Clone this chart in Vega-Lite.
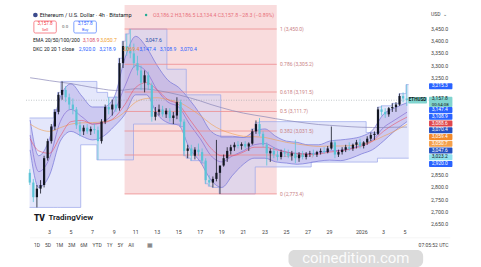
{
  "$schema": "https://vega.github.io/schema/vega-lite/v6.json",
  "width": 407,
  "height": 221,
  "autosize": {"type": "none"},
  "padding": {"left": 25, "top": 5, "right": 49, "bottom": 41},
  "background": "white",
  "config": {"view": {"stroke": null}, "font": "Roboto", "axis": {"disable": true}},
  "datasets": {
    "candles": [
      {"t":1.17,"o":2860,"h":2875,"l":2810,"c":2820},
      {"t":1.5,"o":2820,"h":2835,"l":2740,"c":2760},
      {"t":1.83,"o":2760,"h":2810,"l":2718,"c":2795},
      {"t":2.17,"o":2795,"h":2830,"l":2775,"c":2810},
      {"t":2.5,"o":2810,"h":2930,"l":2800,"c":2920},
      {"t":2.83,"o":2920,"h":3000,"l":2910,"c":2990},
      {"t":3.17,"o":2990,"h":3060,"l":2980,"c":3050},
      {"t":3.5,"o":3050,"h":3120,"l":3035,"c":3110},
      {"t":3.83,"o":3110,"h":3190,"l":3100,"c":3180},
      {"t":4.17,"o":3180,"h":3235,"l":3160,"c":3200},
      {"t":4.5,"o":3200,"h":3215,"l":3150,"c":3170},
      {"t":4.83,"o":3170,"h":3185,"l":3120,"c":3140},
      {"t":5.17,"o":3140,"h":3165,"l":3100,"c":3120},
      {"t":5.5,"o":3120,"h":3130,"l":3040,"c":3055},
      {"t":5.83,"o":3055,"h":3070,"l":3010,"c":3030},
      {"t":6.17,"o":3030,"h":3055,"l":3015,"c":3045},
      {"t":6.5,"o":3045,"h":3060,"l":3020,"c":3030},
      {"t":6.83,"o":3030,"h":3050,"l":3015,"c":3040},
      {"t":7.17,"o":3040,"h":3060,"l":3020,"c":3035},
      {"t":7.5,"o":3035,"h":3050,"l":2913,"c":2990},
      {"t":7.83,"o":2990,"h":3080,"l":2980,"c":3070},
      {"t":8.17,"o":3070,"h":3140,"l":3060,"c":3130},
      {"t":8.5,"o":3130,"h":3170,"l":3100,"c":3120},
      {"t":8.83,"o":3120,"h":3160,"l":3095,"c":3140},
      {"t":9.17,"o":3140,"h":3175,"l":3110,"c":3125},
      {"t":9.5,"o":3125,"h":3330,"l":3115,"c":3310},
      {"t":9.83,"o":3310,"h":3400,"l":3290,"c":3380},
      {"t":10.17,"o":3380,"h":3430,"l":3340,"c":3360},
      {"t":10.5,"o":3360,"h":3450,"l":3330,"c":3350},
      {"t":10.83,"o":3350,"h":3390,"l":3290,"c":3310},
      {"t":11.17,"o":3310,"h":3340,"l":3260,"c":3280},
      {"t":11.5,"o":3280,"h":3300,"l":3200,"c":3230},
      {"t":11.83,"o":3230,"h":3280,"l":3190,"c":3260},
      {"t":12.17,"o":3260,"h":3275,"l":3200,"c":3220},
      {"t":12.5,"o":3220,"h":3230,"l":3070,"c":3090},
      {"t":12.83,"o":3090,"h":3130,"l":3075,"c":3110},
      {"t":13.17,"o":3110,"h":3140,"l":3095,"c":3120},
      {"t":13.5,"o":3120,"h":3135,"l":3090,"c":3100},
      {"t":13.83,"o":3100,"h":3125,"l":3085,"c":3115},
      {"t":14.17,"o":3115,"h":3125,"l":3070,"c":3085},
      {"t":14.5,"o":3085,"h":3110,"l":3060,"c":3095},
      {"t":14.83,"o":3095,"h":3170,"l":3080,"c":3150},
      {"t":15.17,"o":3150,"h":3160,"l":3050,"c":3070},
      {"t":15.5,"o":3070,"h":3080,"l":2930,"c":2950},
      {"t":15.83,"o":2950,"h":2975,"l":2920,"c":2960},
      {"t":16.17,"o":2960,"h":2975,"l":2910,"c":2930},
      {"t":16.5,"o":2930,"h":2965,"l":2915,"c":2955},
      {"t":16.83,"o":2955,"h":2980,"l":2930,"c":2945},
      {"t":17.17,"o":2945,"h":2960,"l":2900,"c":2910},
      {"t":17.5,"o":2910,"h":2920,"l":2815,"c":2830},
      {"t":17.83,"o":2830,"h":2850,"l":2805,"c":2820},
      {"t":18.17,"o":2820,"h":2845,"l":2800,"c":2835},
      {"t":18.5,"o":2835,"h":2995,"l":2825,"c":2860},
      {"t":18.83,"o":2860,"h":2870,"l":2773.4,"c":2890},
      {"t":19.17,"o":2890,"h":2935,"l":2885,"c":2920},
      {"t":19.5,"o":2920,"h":2965,"l":2905,"c":2950},
      {"t":19.83,"o":2950,"h":2975,"l":2935,"c":2965},
      {"t":20.17,"o":2965,"h":2985,"l":2950,"c":2975},
      {"t":20.5,"o":2975,"h":2990,"l":2960,"c":2970},
      {"t":20.83,"o":2970,"h":2985,"l":2955,"c":2978},
      {"t":21.17,"o":2978,"h":2990,"l":2960,"c":2968},
      {"t":21.5,"o":2968,"h":2985,"l":2950,"c":2980},
      {"t":21.83,"o":2980,"h":3040,"l":2975,"c":3030},
      {"t":22.17,"o":3030,"h":3075,"l":3020,"c":3060},
      {"t":22.5,"o":3060,"h":3085,"l":3010,"c":3020},
      {"t":22.83,"o":3020,"h":3030,"l":2965,"c":2975},
      {"t":23.17,"o":2975,"h":2985,"l":2890,"c":2940},
      {"t":23.5,"o":2940,"h":2960,"l":2905,"c":2950},
      {"t":23.83,"o":2950,"h":2965,"l":2920,"c":2935},
      {"t":24.17,"o":2935,"h":2950,"l":2910,"c":2925},
      {"t":24.5,"o":2925,"h":2955,"l":2915,"c":2945},
      {"t":24.83,"o":2945,"h":2960,"l":2925,"c":2940},
      {"t":25.17,"o":2940,"h":2955,"l":2920,"c":2930},
      {"t":25.5,"o":2930,"h":2950,"l":2910,"c":2940},
      {"t":25.83,"o":2940,"h":2995,"l":2900,"c":2920},
      {"t":26.17,"o":2920,"h":2945,"l":2905,"c":2935},
      {"t":26.5,"o":2935,"h":2950,"l":2915,"c":2925},
      {"t":26.83,"o":2925,"h":2945,"l":2915,"c":2938},
      {"t":27.17,"o":2938,"h":2950,"l":2925,"c":2940},
      {"t":27.5,"o":2940,"h":2955,"l":2928,"c":2935},
      {"t":27.83,"o":2935,"h":2950,"l":2925,"c":2945},
      {"t":28.17,"o":2945,"h":2960,"l":2935,"c":2950},
      {"t":28.5,"o":2950,"h":2965,"l":2938,"c":2945},
      {"t":28.83,"o":2945,"h":2970,"l":2940,"c":2960},
      {"t":29.17,"o":2960,"h":3050,"l":2955,"c":2985},
      {"t":29.5,"o":2985,"h":2995,"l":2920,"c":2935},
      {"t":29.83,"o":2935,"h":2955,"l":2925,"c":2945},
      {"t":30.17,"o":2945,"h":2965,"l":2935,"c":2955},
      {"t":30.5,"o":2955,"h":2975,"l":2945,"c":2965},
      {"t":30.83,"o":2965,"h":2985,"l":2950,"c":2960},
      {"t":31.17,"o":2960,"h":2980,"l":2950,"c":2975},
      {"t":31.5,"o":2975,"h":2995,"l":2960,"c":2985},
      {"t":31.83,"o":2985,"h":3000,"l":2960,"c":2970},
      {"t":32.17,"o":2970,"h":2990,"l":2960,"c":2985},
      {"t":32.5,"o":2985,"h":3010,"l":2975,"c":3000},
      {"t":32.83,"o":3000,"h":3025,"l":2990,"c":3015},
      {"t":33.17,"o":3015,"h":3030,"l":2995,"c":3020},
      {"t":33.5,"o":3020,"h":3130,"l":3015,"c":3120},
      {"t":33.83,"o":3120,"h":3135,"l":3095,"c":3110},
      {"t":34.17,"o":3110,"h":3125,"l":3085,"c":3100},
      {"t":34.5,"o":3100,"h":3130,"l":3090,"c":3125},
      {"t":34.83,"o":3125,"h":3145,"l":3110,"c":3130},
      {"t":35.17,"o":3130,"h":3150,"l":3110,"c":3140},
      {"t":35.5,"o":3140,"h":3185,"l":3135,"c":3175},
      {"t":35.83,"o":3175,"h":3190,"l":3150,"c":3165},
      {"t":36.17,"o":3165,"h":3222,"l":3134.4,"c":3157.8}
    ],
    "dc": [
      {"t":1.15,"u":3085,"l":2718},
      {"t":3.4,"u":3120,"l":2718},
      {"t":3.75,"u":3190,"l":2718},
      {"t":4.05,"u":3235,"l":2718},
      {"t":5.9,"u":3235,"l":2975},
      {"t":7.4,"u":3190,"l":2913},
      {"t":8.4,"u":3170,"l":2913},
      {"t":9.4,"u":3330,"l":2913},
      {"t":9.75,"u":3400,"l":2913},
      {"t":10.05,"u":3430,"l":2913},
      {"t":10.4,"u":3450,"l":2913},
      {"t":10.8,"u":3450,"l":3060},
      {"t":13.9,"u":3285,"l":3060},
      {"t":15.1,"u":3285,"l":3050},
      {"t":15.45,"u":3285,"l":2930},
      {"t":15.7,"u":3180,"l":2920},
      {"t":16.1,"u":3180,"l":2910},
      {"t":17.1,"u":3180,"l":2900},
      {"t":17.45,"u":3180,"l":2815},
      {"t":17.75,"u":3180,"l":2805},
      {"t":18.1,"u":3180,"l":2800},
      {"t":18.75,"u":3180,"l":2773.4},
      {"t":18.9,"u":3005,"l":2773.4},
      {"t":21.75,"u":3040,"l":2773.4},
      {"t":22.1,"u":3065,"l":2884},
      {"t":22.45,"u":3070,"l":2884},
      {"t":27.3,"u":3070,"l":2904},
      {"t":32.4,"u":3025,"l":2904},
      {"t":33.45,"u":3130,"l":2920},
      {"t":33.8,"u":3135,"l":2920},
      {"t":34.8,"u":3145,"l":2920},
      {"t":35.45,"u":3185,"l":2920},
      {"t":36.1,"u":3222,"l":2920},
      {"t":36.35,"u":3222,"l":2920}
    ],
    "kc": [
      {"t":1.2,"u":3077,"m":3015,"l":2954},
      {"t":2,"u":2930,"m":2865,"l":2800},
      {"t":3,"u":3000,"m":2920,"l":2850},
      {"t":4,"u":3170,"m":3070,"l":2990},
      {"t":5,"u":3225,"m":3120,"l":3030},
      {"t":6,"u":3175,"m":3090,"l":3010},
      {"t":7,"u":3130,"m":3060,"l":2995},
      {"t":8,"u":3130,"m":3070,"l":3010},
      {"t":9,"u":3170,"m":3110,"l":3050},
      {"t":10,"u":3330,"m":3215,"l":3100},
      {"t":11,"u":3420,"m":3300,"l":3180},
      {"t":12,"u":3375,"m":3275,"l":3180},
      {"t":13,"u":3300,"m":3200,"l":3100},
      {"t":14,"u":3240,"m":3150,"l":3065},
      {"t":15,"u":3210,"m":3130,"l":3055},
      {"t":16,"u":3160,"m":3060,"l":2960},
      {"t":17,"u":3100,"m":3000,"l":2905},
      {"t":18,"u":3030,"m":2930,"l":2830},
      {"t":19,"u":3010,"m":2905,"l":2800},
      {"t":20,"u":3010,"m":2930,"l":2850},
      {"t":21,"u":3005,"m":2950,"l":2895},
      {"t":22,"u":3030,"m":2975,"l":2920},
      {"t":23,"u":3040,"m":2980,"l":2920},
      {"t":24,"u":3010,"m":2960,"l":2905},
      {"t":25,"u":2990,"m":2945,"l":2900},
      {"t":26,"u":2985,"m":2940,"l":2895},
      {"t":27,"u":2975,"m":2938,"l":2900},
      {"t":28,"u":2975,"m":2942,"l":2908},
      {"t":29,"u":2990,"m":2950,"l":2912},
      {"t":30,"u":2995,"m":2952,"l":2910},
      {"t":31,"u":3000,"m":2960,"l":2920},
      {"t":32,"u":3010,"m":2975,"l":2938},
      {"t":33,"u":3035,"m":2995,"l":2955},
      {"t":34,"u":3100,"m":3045,"l":2990},
      {"t":35,"u":3125,"m":3075,"l":3030},
      {"t":36.2,"u":3147.4,"m":3108.9,"l":3070.4}
    ],
    "ema": [
      {"t":1.2,"e50":3000,"e100":3060,"e200":3250},
      {"t":2,"e50":2950,"e100":3040,"e200":3245},
      {"t":3,"e50":2940,"e100":3030,"e200":3238},
      {"t":4,"e50":3010,"e100":3045,"e200":3232},
      {"t":5,"e50":3070,"e100":3060,"e200":3226},
      {"t":6,"e50":3075,"e100":3065,"e200":3218},
      {"t":7,"e50":3060,"e100":3066,"e200":3210},
      {"t":8,"e50":3065,"e100":3070,"e200":3203},
      {"t":9,"e50":3085,"e100":3080,"e200":3198},
      {"t":10,"e50":3140,"e100":3110,"e200":3200},
      {"t":11,"e50":3210,"e100":3150,"e200":3205},
      {"t":12,"e50":3230,"e100":3165,"e200":3204},
      {"t":13,"e50":3200,"e100":3168,"e200":3198},
      {"t":14,"e50":3160,"e100":3160,"e200":3190},
      {"t":15,"e50":3140,"e100":3150,"e200":3180},
      {"t":16,"e50":3080,"e100":3125,"e200":3168},
      {"t":17,"e50":3020,"e100":3095,"e200":3155},
      {"t":18,"e50":2960,"e100":3060,"e200":3140},
      {"t":19,"e50":2930,"e100":3035,"e200":3127},
      {"t":20,"e50":2930,"e100":3020,"e200":3115},
      {"t":21,"e50":2945,"e100":3010,"e200":3105},
      {"t":22,"e50":2965,"e100":3008,"e200":3097},
      {"t":23,"e50":2965,"e100":3005,"e200":3090},
      {"t":24,"e50":2955,"e100":2995,"e200":3082},
      {"t":25,"e50":2945,"e100":2985,"e200":3075},
      {"t":26,"e50":2938,"e100":2978,"e200":3069},
      {"t":27,"e50":2935,"e100":2972,"e200":3063},
      {"t":28,"e50":2937,"e100":2968,"e200":3058},
      {"t":29,"e50":2945,"e100":2970,"e200":3055},
      {"t":30,"e50":2950,"e100":2970,"e200":3052},
      {"t":31,"e50":2958,"e100":2972,"e200":3049},
      {"t":32,"e50":2970,"e100":2978,"e200":3047},
      {"t":33,"e50":2990,"e100":2990,"e200":3046},
      {"t":34,"e50":3030,"e100":3010,"e200":3046},
      {"t":35,"e50":3060,"e100":3030,"e200":3047},
      {"t":36.2,"e50":3088.6,"e100":3059.4,"e200":3047.6}
    ],
    "fib": [
      {"p":3450.0,"label":"1 (3,450.0)"},
      {"p":3305.2,"label":"0.786 (3,305.2)"},
      {"p":3191.5,"label":"0.618 (3,191.5)"},
      {"p":3111.7,"label":"0.5 (3,111.7)"},
      {"p":3031.5,"label":"0.382 (3,031.5)"},
      {"p":2933.1,"label":"0.236 (2,933.1)"},
      {"p":2773.4,"label":"0 (2,773.4)"}
    ],
    "boxes": [
      {"price":3147.4,"label":"3,147.4","role":"kcU"},
      {"price":3108.9,"label":"3,108.9","role":"kcM"},
      {"price":3088.6,"label":"3,088.6","role":"ema50"},
      {"price":3070.4,"label":"3,070.4","role":"kcL"},
      {"price":3059.4,"label":"3,059.4","role":"ema100"},
      {"price":3050.7,"label":"3,050.7","role":"ema100b"},
      {"price":3047.6,"label":"3,047.6","role":"ema200"},
      {"price":3023.2,"label":"3,023.2","role":"misc"},
      {"price":2920.0,"label":"2,920.0","role":"dcL"}
    ],
    "yticks": [{"v":3450},{"v":3400},{"v":3350},{"v":3300},{"v":3250},{"v":2850},{"v":2800},{"v":2750},{"v":2700},{"v":2650}],
    "xticks": [
      {"v":3,"label":"3"},{"v":5,"label":"5"},{"v":7,"label":"7"},{"v":9,"label":"9"},{"v":11,"label":"11"},
      {"v":13,"label":"13"},{"v":15,"label":"15"},{"v":17,"label":"17"},{"v":19,"label":"19"},{"v":21,"label":"21"},
      {"v":23,"label":"23"},{"v":25,"label":"25"},{"v":27,"label":"27"},{"v":29,"label":"29"},
      {"v":32,"label":"2026"},{"v":34,"label":"3"},{"v":36,"label":"5"}
    ]
  },
  "layer": [
    {
      "data": {"values": [{}]},
      "mark": {"type": "rect", "fill": "#f6c6c8", "opacity": 0.62},
      "encoding": {
        "x": {"datum": 9.97, "type": "quantitative", "scale": {"domain": [1.19, 38.05], "nice": false, "zero": false}},
        "x2": {"datum": 24.1},
        "y": {"datum": 3548.5, "type": "quantitative", "scale": {"domain": [2641.8, 3548.5], "nice": false, "zero": false}},
        "y2": {"datum": 2773.4}
      }
    },
    {
      "data": {"name": "dc"},
      "mark": {"type": "area", "interpolate": "step-after", "fill": "#c9d0f7", "opacity": 0.5},
      "encoding": {"x": {"field": "t", "type": "quantitative"}, "y": {"field": "u", "type": "quantitative"}, "y2": {"field": "l"}}
    },
    {
      "data": {"name": "dc"},
      "mark": {"type": "line", "interpolate": "step-after", "stroke": "#9aa5ea", "strokeWidth": 0.7},
      "encoding": {"x": {"field": "t", "type": "quantitative"}, "y": {"field": "u", "type": "quantitative"}}
    },
    {
      "data": {"name": "dc"},
      "mark": {"type": "line", "interpolate": "step-after", "stroke": "#9aa5ea", "strokeWidth": 0.7},
      "encoding": {"x": {"field": "t", "type": "quantitative"}, "y": {"field": "l", "type": "quantitative"}}
    },
    {
      "data": {"name": "kc"},
      "mark": {"type": "area", "interpolate": "monotone", "fill": "#8f7fd6", "opacity": 0.28},
      "encoding": {"x": {"field": "t", "type": "quantitative"}, "y": {"field": "u", "type": "quantitative"}, "y2": {"field": "l"}}
    },
    {
      "data": {"name": "kc"},
      "mark": {"type": "line", "interpolate": "monotone", "stroke": "#7474d8", "strokeWidth": 0.7},
      "encoding": {"x": {"field": "t", "type": "quantitative"}, "y": {"field": "u", "type": "quantitative"}}
    },
    {
      "data": {"name": "kc"},
      "mark": {"type": "line", "interpolate": "monotone", "stroke": "#7474d8", "strokeWidth": 0.7},
      "encoding": {"x": {"field": "t", "type": "quantitative"}, "y": {"field": "l", "type": "quantitative"}}
    },
    {
      "data": {"name": "kc"},
      "mark": {"type": "line", "interpolate": "monotone", "stroke": "#7a5fd0", "strokeWidth": 0.6},
      "encoding": {"x": {"field": "t", "type": "quantitative"}, "y": {"field": "m", "type": "quantitative"}}
    },
    {
      "data": {"name": "fib"},
      "mark": {"type": "rule", "stroke": "#ee8d8f", "strokeWidth": 0.8},
      "encoding": {"x": {"datum": 9.97, "type": "quantitative"}, "x2": {"datum": 24.1}, "y": {"field": "p", "type": "quantitative"}}
    },
    {
      "data": {"name": "fib"},
      "mark": {"type": "text", "align": "left", "baseline": "middle", "fontSize": 5, "color": "#c98386"},
      "encoding": {"x": {"datum": 24.4, "type": "quantitative"}, "y": {"field": "p", "type": "quantitative"}, "text": {"field": "label"}}
    },
    {
      "data": {"name": "ema"},
      "mark": {"type": "line", "interpolate": "monotone", "stroke": "#8a86b8", "strokeWidth": 0.7},
      "encoding": {"x": {"field": "t", "type": "quantitative"}, "y": {"field": "e200", "type": "quantitative"}}
    },
    {
      "data": {"name": "ema"},
      "mark": {"type": "line", "interpolate": "monotone", "stroke": "#f0a050", "strokeWidth": 0.6},
      "encoding": {"x": {"field": "t", "type": "quantitative"}, "y": {"field": "e100", "type": "quantitative"}}
    },
    {
      "data": {"name": "ema"},
      "mark": {"type": "line", "interpolate": "monotone", "stroke": "#e8546a", "strokeWidth": 0.6},
      "encoding": {"x": {"field": "t", "type": "quantitative"}, "y": {"field": "e50", "type": "quantitative"}}
    },
    {
      "data": {"values": [{}]},
      "mark": {"type": "rule", "stroke": "#9aa4a8", "strokeWidth": 0.6, "strokeDash": [1, 1.5]},
      "encoding": {"y": {"datum": 3157.8, "type": "quantitative"}}
    },
    {
      "data": {"name": "candles"},
      "mark": {"type": "rule", "strokeWidth": 0.8, "clip": true},
      "encoding": {
        "x": {"field": "t", "type": "quantitative"},
        "y": {"field": "l", "type": "quantitative"},
        "y2": {"field": "h"},
        "color": {"condition": {"test": "datum.c < datum.o", "value": "#5cc3d6"}, "value": "#131722"}
      }
    },
    {
      "data": {"name": "candles"},
      "mark": {"type": "bar", "size": 2.2, "clip": true},
      "encoding": {
        "x": {"field": "t", "type": "quantitative"},
        "y": {"field": "o", "type": "quantitative"},
        "y2": {"field": "c"},
        "color": {"condition": {"test": "datum.c < datum.o", "value": "#5cc3d6"}, "value": "#131722"}
      }
    },
    {
      "data": {"name": "yticks"},
      "mark": {"type": "text", "align": "left", "baseline": "middle", "fontSize": 5.3, "color": "#444"},
      "encoding": {"x": {"datum": 38.42, "type": "quantitative"}, "y": {"field": "v", "type": "quantitative"}, "text": {"field": "v", "type": "quantitative", "format": ",.1f"}}
    },
    {
      "data": {"name": "xticks"},
      "mark": {"type": "text", "align": "center", "baseline": "middle", "fontSize": 5.3, "color": "#444"},
      "encoding": {
        "x": {"field": "v", "type": "quantitative"},
        "y": {"datum": 2617.2, "type": "quantitative"},
        "text": {"field": "label"},
        "fontWeight": {"condition": {"test": "datum.v == 32", "value": "bold"}, "value": "normal"}
      }
    },
    {
      "data": {"name": "boxes"},
      "transform": [
        {"window": [{"op": "row_number", "as": "rank"}], "sort": [{"field": "price", "order": "descending"}]},
        {"calculate": "3117.7 - (datum.rank - 1) * 27.7", "as": "pos"},
        {"calculate": "datum.pos + 12.6", "as": "top"},
        {"calculate": "datum.pos - 12.6", "as": "bot"}
      ],
      "layer": [
        {
          "mark": {"type": "rect", "cornerRadius": 1},
          "encoding": {
            "x": {"datum": 38.24, "type": "quantitative"}, "x2": {"datum": 40.41},
            "y": {"field": "top", "type": "quantitative"}, "y2": {"field": "bot"},
            "color": {"condition": [
              {"test": "datum.role == 'ema50'", "value": "#e0474c"},
              {"test": "datum.role == 'ema100'", "value": "#f28b2c"},
              {"test": "datum.role == 'ema100b'", "value": "#f5a04a"},
              {"test": "datum.role == 'kcL' || datum.role == 'ema200'", "value": "#2450c0"},
              {"test": "datum.role == 'misc'", "value": "#8fe1ee"}
            ], "value": "#2962ff"}
          }
        },
        {
          "mark": {"type": "text", "align": "left", "baseline": "middle", "fontSize": 4.9},
          "encoding": {
            "x": {"datum": 38.5, "type": "quantitative"},
            "y": {"field": "pos", "type": "quantitative"},
            "text": {"field": "label"},
            "color": {"condition": {"test": "datum.role == 'misc'", "value": "#131722"}, "value": "white"}
          }
        }
      ]
    },
    {
      "data": {"values": [{}]},
      "mark": {"type": "rect", "fill": "#2962ff", "cornerRadius": 1},
      "encoding": {"x": {"datum": 38.24, "type": "quantitative"}, "x2": {"datum": 40.41}, "y": {"datum": 3227.9, "type": "quantitative"}, "y2": {"datum": 3202.7}}
    },
    {
      "data": {"values": [{}]},
      "mark": {"type": "text", "align": "left", "baseline": "middle", "fontSize": 4.9, "color": "white", "text": "3,215.3"},
      "encoding": {"x": {"datum": 38.5, "type": "quantitative"}, "y": {"datum": 3215.3, "type": "quantitative"}}
    },
    {
      "data": {"values": [{}]},
      "mark": {"type": "rect", "fill": "#80d4cf", "cornerRadius": 1},
      "encoding": {"x": {"datum": 38.24, "type": "quantitative"}, "x2": {"datum": 40.41}, "y": {"datum": 3172, "type": "quantitative"}, "y2": {"datum": 3130}}
    },
    {
      "data": {"values": [{}]},
      "mark": {"type": "text", "align": "left", "baseline": "middle", "fontSize": 4.9, "color": "#131722", "text": "3,157.8"},
      "encoding": {"x": {"datum": 38.5, "type": "quantitative"}, "y": {"datum": 3162, "type": "quantitative"}}
    },
    {
      "data": {"values": [{}]},
      "mark": {"type": "text", "align": "left", "baseline": "middle", "fontSize": 4.4, "color": "#131722", "text": "00:54:08"},
      "encoding": {"x": {"datum": 38.5, "type": "quantitative"}, "y": {"datum": 3140, "type": "quantitative"}}
    },
    {
      "data": {"values": [{}]},
      "mark": {"type": "rect", "fill": "#80d4cf", "cornerRadius": 1},
      "encoding": {"x": {"datum": 36.3, "type": "quantitative"}, "x2": {"datum": 38.05}, "y": {"datum": 3171, "type": "quantitative"}, "y2": {"datum": 3144}}
    },
    {
      "data": {"values": [{}]},
      "mark": {"type": "text", "align": "center", "baseline": "middle", "fontSize": 4.6, "fontWeight": "bold", "color": "#131722", "text": "ETHUSD"},
      "encoding": {"x": {"datum": 37.17, "type": "quantitative"}, "y": {"datum": 3157.8, "type": "quantitative"}}
    },
    {
      "data": {"values": [{}]},
      "mark": {"type": "point", "shape": "circle", "filled": true, "size": 22, "color": "#3b4a8c", "opacity": 1},
      "encoding": {"x": {"datum": 1.69, "type": "quantitative"}, "y": {"datum": 3507.4, "type": "quantitative"}}
    },
    {
      "data": {"values": [{}]},
      "mark": {"type": "text", "align": "left", "baseline": "middle", "fontSize": 5.6, "color": "#131722", "text": "Ethereum / U.S. Dollar · 4h · Bitstamp"},
      "encoding": {"x": {"datum": 2.09, "type": "quantitative"}, "y": {"datum": 3507.4, "type": "quantitative"}}
    },
    {
      "data": {"values": [{}]},
      "mark": {"type": "point", "shape": "circle", "filled": true, "size": 6, "color": "#22ab94", "opacity": 1},
      "encoding": {"x": {"datum": 11.97, "type": "quantitative"}, "y": {"datum": 3507.4, "type": "quantitative"}}
    },
    {
      "data": {"values": [{}]},
      "mark": {"type": "text", "align": "left", "baseline": "middle", "fontSize": 5.2, "color": "#e8707a", "text": "O3,186.2 H3,186.5 L3,134.4 C3,157.8 −28.3 (−0.89%)"},
      "encoding": {"x": {"datum": 12.6, "type": "quantitative"}, "y": {"datum": 3507.4, "type": "quantitative"}}
    },
    {
      "data": {"values": [{}]},
      "mark": {"type": "rect", "fill": "white", "stroke": "#f23645", "strokeWidth": 0.6, "cornerRadius": 1.5},
      "encoding": {"x": {"datum": 1.55, "type": "quantitative"}, "x2": {"datum": 3.63}, "y": {"datum": 3482.8, "type": "quantitative"}, "y2": {"datum": 3433.6}}
    },
    {
      "data": {"values": [{}]},
      "mark": {"type": "text", "align": "center", "baseline": "middle", "fontSize": 4.6, "color": "#f23645", "text": "3,157.8"},
      "encoding": {"x": {"datum": 2.59, "type": "quantitative"}, "y": {"datum": 3468.5, "type": "quantitative"}}
    },
    {
      "data": {"values": [{}]},
      "mark": {"type": "text", "align": "center", "baseline": "middle", "fontSize": 3.8, "color": "#f23645", "text": "Sell"},
      "encoding": {"x": {"datum": 2.59, "type": "quantitative"}, "y": {"datum": 3444, "type": "quantitative"}}
    },
    {
      "data": {"values": [{}]},
      "mark": {"type": "text", "align": "center", "baseline": "middle", "fontSize": 4.4, "color": "#555", "text": "0.0"},
      "encoding": {"x": {"datum": 4.45, "type": "quantitative"}, "y": {"datum": 3458.2, "type": "quantitative"}}
    },
    {
      "data": {"values": [{}]},
      "mark": {"type": "rect", "fill": "white", "stroke": "#2962ff", "strokeWidth": 0.6, "cornerRadius": 1.5},
      "encoding": {"x": {"datum": 5.26, "type": "quantitative"}, "x2": {"datum": 7.35}, "y": {"datum": 3482.8, "type": "quantitative"}, "y2": {"datum": 3433.6}}
    },
    {
      "data": {"values": [{}]},
      "mark": {"type": "text", "align": "center", "baseline": "middle", "fontSize": 4.6, "color": "#2962ff", "text": "3,157.8"},
      "encoding": {"x": {"datum": 6.31, "type": "quantitative"}, "y": {"datum": 3468.5, "type": "quantitative"}}
    },
    {
      "data": {"values": [{}]},
      "mark": {"type": "text", "align": "center", "baseline": "middle", "fontSize": 3.8, "color": "#2962ff", "text": "Buy"},
      "encoding": {"x": {"datum": 6.31, "type": "quantitative"}, "y": {"datum": 3444, "type": "quantitative"}}
    },
    {
      "data": {"values": [{}]},
      "mark": {"type": "text", "align": "left", "baseline": "middle", "fontSize": 5.1, "color": "#131722", "text": "EMA 20/50/100/200"},
      "encoding": {"x": {"datum": 1.46, "type": "quantitative"}, "y": {"datum": 3406.9, "type": "quantitative"}}
    },
    {
      "data": {"values": [{}]},
      "mark": {"type": "text", "align": "left", "baseline": "middle", "fontSize": 5.1, "color": "#d9506a", "text": "3,108.9"},
      "encoding": {"x": {"datum": 6.08, "type": "quantitative"}, "y": {"datum": 3406.9, "type": "quantitative"}}
    },
    {
      "data": {"values": [{}]},
      "mark": {"type": "text", "align": "left", "baseline": "middle", "fontSize": 5.1, "color": "#f0a030", "text": "3,050.7"},
      "encoding": {"x": {"datum": 7.71, "type": "quantitative"}, "y": {"datum": 3406.9, "type": "quantitative"}}
    },
    {
      "data": {"values": [{}]},
      "mark": {"type": "text", "align": "left", "baseline": "middle", "fontSize": 5.1, "color": "#2a4fa8", "text": "3,047.6"},
      "encoding": {"x": {"datum": 11.88, "type": "quantitative"}, "y": {"datum": 3406.9, "type": "quantitative"}}
    },
    {
      "data": {"values": [{}]},
      "mark": {"type": "text", "align": "left", "baseline": "middle", "fontSize": 5.1, "color": "#131722", "text": "DKC 20 20 1 close"},
      "encoding": {"x": {"datum": 1.46, "type": "quantitative"}, "y": {"datum": 3368, "type": "quantitative"}}
    },
    {
      "data": {"values": [{}]},
      "mark": {"type": "text", "align": "left", "baseline": "middle", "fontSize": 5.1, "color": "#2962ff", "text": "2,920.0\u00a0\u00a0\u00a03,218.9"},
      "encoding": {"x": {"datum": 5.72, "type": "quantitative"}, "y": {"datum": 3368, "type": "quantitative"}}
    },
    {
      "data": {"values": [{}]},
      "mark": {"type": "text", "align": "left", "baseline": "middle", "fontSize": 5.1, "color": "#f08a30", "text": "3,069.4"},
      "encoding": {"x": {"datum": 9.79, "type": "quantitative"}, "y": {"datum": 3368, "type": "quantitative"}}
    },
    {
      "data": {"values": [{}]},
      "mark": {"type": "text", "align": "left", "baseline": "middle", "fontSize": 5.1, "color": "#2962ff", "text": "3,147.4\u00a0\u00a0\u00a03,108.9\u00a0\u00a0\u00a03,070.4"},
      "encoding": {"x": {"datum": 11.33, "type": "quantitative"}, "y": {"datum": 3368, "type": "quantitative"}}
    },
    {
      "data": {"values": [{}]},
      "mark": {"type": "text", "align": "left", "baseline": "middle", "fontSize": 5, "color": "#444", "text": "USD\u00a0\u00a0⌄"},
      "encoding": {"x": {"datum": 38.42, "type": "quantitative"}, "y": {"datum": 3511.5, "type": "quantitative"}}
    },
    {
      "data": {"values": [{}]},
      "mark": {"type": "text", "align": "left", "baseline": "middle", "fontSize": 8.5, "fontWeight": 900, "color": "#131722", "text": "TV"},
      "encoding": {"x": {"datum": 1.55, "type": "quantitative"}, "y": {"datum": 2674.6, "type": "quantitative"}}
    },
    {
      "data": {"values": [{}]},
      "mark": {"type": "text", "align": "left", "baseline": "middle", "fontSize": 8, "fontWeight": 600, "color": "#131722", "text": "TradingView"},
      "encoding": {"x": {"datum": 2.9, "type": "quantitative"}, "y": {"datum": 2674.6, "type": "quantitative"}}
    },
    {
      "data": {"values": [{}]},
      "mark": {"type": "rule", "stroke": "#ececec", "strokeWidth": 0.6},
      "encoding": {"x": {"datum": 1.19, "type": "quantitative"}, "x2": {"datum": 40.2}, "y": {"datum": 2593.2, "type": "quantitative"}}
    },
    {
      "data": {"values": [{}]},
      "mark": {"type": "text", "align": "left", "baseline": "middle", "fontSize": 5, "color": "#444", "text": "1D\u00a0\u00a0\u00a0\u00a05D\u00a0\u00a0\u00a0\u00a01M\u00a0\u00a0\u00a0\u00a03M\u00a0\u00a0\u00a0\u00a06M\u00a0\u00a0\u00a0\u00a0YTD\u00a0\u00a0\u00a0\u00a01Y\u00a0\u00a0\u00a0\u00a05Y\u00a0\u00a0\u00a0\u00a0All"},
      "encoding": {"x": {"datum": 1.55, "type": "quantitative"}, "y": {"datum": 2563.8, "type": "quantitative"}}
    },
    {
      "data": {"values": [{}]},
      "mark": {"type": "text", "align": "left", "baseline": "middle", "fontSize": 6, "color": "#666", "text": "▦"},
      "encoding": {"x": {"datum": 12.06, "type": "quantitative"}, "y": {"datum": 2563.8, "type": "quantitative"}}
    },
    {
      "data": {"values": [{}]},
      "mark": {"type": "text", "align": "right", "baseline": "middle", "fontSize": 5, "color": "#444", "text": "07:05:52 UTC"},
      "encoding": {"x": {"datum": 40.05, "type": "quantitative"}, "y": {"datum": 2563.8, "type": "quantitative"}}
    },
    {
      "data": {"values": [{}]},
      "mark": {"type": "rect", "fill": "#cccccc", "opacity": 0.7, "cornerRadius": 6},
      "encoding": {"x": {"datum": 25.19, "type": "quantitative"}, "x2": {"datum": 37.69}, "y": {"datum": 2543.3, "type": "quantitative"}, "y2": {"datum": 2473.6}}
    },
    {
      "data": {"values": [{}]},
      "mark": {"type": "text", "align": "center", "baseline": "middle", "fontSize": 15, "color": "white", "opacity": 0.9, "text": "coinedition.com"},
      "encoding": {"x": {"datum": 31.44, "type": "quantitative"}, "y": {"datum": 2509, "type": "quantitative"}}
    }
  ]
}
